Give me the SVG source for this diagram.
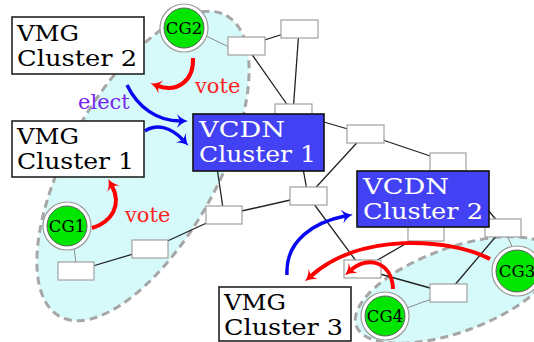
<svg xmlns="http://www.w3.org/2000/svg" width="534" height="342" viewBox="0 0 534 342">
<style>
.region{fill:#d6fafa;stroke:#a6a6a6;stroke-width:3;stroke-dasharray:8 5}
.link{stroke:#222;stroke-width:1.3;fill:none}
.glink{stroke:#8a8a8a;stroke-width:1;fill:none}
.sw{fill:#fff;stroke:#a0a0a0;stroke-width:1.2}
.ring{fill:#fff;stroke:#9a9a9a;stroke-width:1.2}
.cg{fill:#00e600;stroke:#606060;stroke-width:1}
.cgt{font-family:"DejaVu Serif",serif;font-size:16.5px;fill:#000;text-anchor:middle}
.vmg{fill:#fff;stroke:#222;stroke-width:1.6}
.vcdn{fill:#4242f4;stroke:#111;stroke-width:1.6}
.big{font-family:"DejaVu Serif",serif;font-size:21.5px}
.wt{fill:#fff}
.red{stroke:#f00;stroke-width:4;fill:none}
.blue{stroke:#0808f0;stroke-width:3.5;fill:none}
.lbl{font-family:"DejaVu Serif",serif;font-size:21px}
</style>
<defs>
<marker id="ahr" viewBox="-12 -8 14 16" refX="-7" refY="0" markerWidth="14" markerHeight="16" markerUnits="userSpaceOnUse" orient="auto">
<path d="M1,0 C-4,-1.5 -7,-3.5 -10,-7 L-7,0 L-10,7 C-7,3.5 -4,1.5 1,0 Z" fill="#f00"/>
</marker>
<marker id="ahb" viewBox="-12 -8 14 16" refX="-7" refY="0" markerWidth="14" markerHeight="16" markerUnits="userSpaceOnUse" orient="auto">
<path d="M1,0 C-4,-1.5 -7,-3.5 -10,-7 L-7,0 L-10,7 C-7,3.5 -4,1.5 1,0 Z" fill="#0808f0"/>
</marker>
</defs>

<g id="regions">
<ellipse class="region" cx="143" cy="166" rx="172" ry="75" transform="rotate(-61 143 166)"/>
<ellipse class="region" cx="455" cy="290" rx="105" ry="42" transform="rotate(-20 455 290)"/>
</g>

<g id="connectors">
<line class="link" x1="246" y1="46" x2="299" y2="29"/>
<line class="link" x1="246" y1="46" x2="293" y2="113"/>
<line class="link" x1="299" y1="29" x2="293" y2="113"/>
<line class="link" x1="293" y1="113" x2="365" y2="134"/>
<line class="link" x1="365" y1="134" x2="448" y2="162"/>
<line class="link" x1="365" y1="134" x2="308" y2="196"/>
<line class="link" x1="293" y1="113" x2="308" y2="196"/>
<line class="link" x1="308" y1="196" x2="224" y2="215"/>
<line class="link" x1="210" y1="120" x2="224" y2="215"/>
<line class="link" x1="224" y1="215" x2="150" y2="249"/>
<line class="link" x1="150" y1="249" x2="76" y2="271"/>
<line class="link" x1="308" y1="196" x2="362" y2="269"/>
<line class="link" x1="362" y1="269" x2="426" y2="232"/>
<line class="link" x1="362" y1="269" x2="448" y2="293"/>
<line class="link" x1="448" y1="293" x2="503" y2="228"/>
<line class="link" x1="448" y1="162" x2="503" y2="228"/>
<line class="glink" x1="206" y1="36" x2="229" y2="47"/>
<line class="glink" x1="74" y1="248" x2="76" y2="263"/>
<line class="glink" x1="507" y1="235" x2="513" y2="249"/>
<line class="glink" x1="385" y1="316" x2="448" y2="293"/>
</g>

<g id="switches">
<rect id="s1" class="sw" x="228" y="37" width="37" height="18"/>
<rect id="s2" class="sw" x="281" y="20" width="37" height="18"/>
<rect id="s3" class="sw" x="275" y="104" width="37" height="18"/>
<rect id="s4" class="sw" x="347" y="125" width="37" height="18"/>
<rect id="s5" class="sw" x="430" y="153" width="36" height="18"/>
<rect id="s6" class="sw" x="290" y="187" width="37" height="18"/>
<rect id="s7" class="sw" x="206" y="206" width="36" height="18"/>
<rect id="s8" class="sw" x="58" y="262" width="36" height="18"/>
<rect id="s9" class="sw" x="132" y="240" width="36" height="18"/>
<rect id="s10" class="sw" x="408" y="223" width="36" height="18"/>
<rect id="s11" class="sw" x="485" y="219" width="36" height="18"/>
<rect id="s12" class="sw" x="344" y="260" width="37" height="18"/>
<rect id="s13" class="sw" x="430" y="284" width="37" height="18"/>
</g>

<g id="cg1"><circle class="ring" cx="67" cy="226" r="24"/><circle class="cg" cx="67" cy="226" r="20"/><text class="cgt" x="67" y="232">CG1</text></g>
<g id="cg2"><circle class="ring" cx="184" cy="28" r="24"/><circle class="cg" cx="184" cy="28" r="20"/><text class="cgt" x="184" y="34">CG2</text></g>
<g id="cg3"><circle class="ring" cx="517" cy="271" r="25"/><circle class="cg" cx="517" cy="271" r="21"/><text class="cgt" x="517" y="277">CG3</text></g>
<g id="cg4"><circle class="ring" cx="385" cy="316" r="24"/><circle class="cg" cx="385" cy="316" r="20"/><text class="cgt" x="385" y="322">CG4</text></g>

<g id="vmg2"><rect class="vmg" x="12" y="17" width="132" height="57"/>
<text class="big" x="17" y="41" textLength="62" lengthAdjust="spacingAndGlyphs">VMG</text>
<text class="big" x="17" y="66" textLength="120" lengthAdjust="spacingAndGlyphs">Cluster 2</text></g>
<g id="vmg1"><rect class="vmg" x="12" y="121" width="132" height="56"/>
<text class="big" x="17" y="144" textLength="62" lengthAdjust="spacingAndGlyphs">VMG</text>
<text class="big" x="17" y="169" textLength="117" lengthAdjust="spacingAndGlyphs">Cluster 1</text></g>
<g id="vmg3"><rect class="vmg" x="219" y="287" width="132" height="54"/>
<text class="big" x="224" y="310" textLength="62" lengthAdjust="spacingAndGlyphs">VMG</text>
<text class="big" x="224" y="335" textLength="119" lengthAdjust="spacingAndGlyphs">Cluster 3</text></g>
<g id="vcdn1"><rect class="vcdn" x="193" y="114" width="131" height="57"/>
<text class="big wt" x="199" y="137" textLength="86" lengthAdjust="spacingAndGlyphs">VCDN</text>
<text class="big wt" x="199" y="162" textLength="117" lengthAdjust="spacingAndGlyphs">Cluster 1</text></g>
<g id="vcdn2"><rect class="vcdn" x="357" y="171" width="132" height="56"/>
<text class="big wt" x="363" y="194" textLength="86" lengthAdjust="spacingAndGlyphs">VCDN</text>
<text class="big wt" x="363" y="219" textLength="120" lengthAdjust="spacingAndGlyphs">Cluster 2</text></g>

<g id="arrows">
<path class="blue" d="M127,85 C138,108 158,121 180,121" marker-end="url(#ahb)"/>
<path class="blue" d="M145,131 C156,124 170,126 183,140" marker-end="url(#ahb)"/>
<path class="blue" d="M287,275 C285,240 315,222 345,216" marker-end="url(#ahb)"/>
<path class="red" d="M193,58 C194,80 178,93 158,86" marker-end="url(#ahr)"/>
<path class="red" d="M92,228 C112,222 122,205 112,186" marker-end="url(#ahr)"/>
<path class="red" d="M490,259 C450,238 360,232 311,276" marker-end="url(#ahr)"/>
<path class="red" d="M393,289 C392,262 368,255 351,270" marker-end="url(#ahr)"/>
</g>

<g id="labels">
<text class="lbl" x="78" y="109" fill="#7a22f2" font-size="20">elect</text>
<text class="lbl" x="195" y="93" fill="#f22">vote</text>
<text class="lbl" x="125" y="222" fill="#f22">vote</text>
</g>
</svg>
